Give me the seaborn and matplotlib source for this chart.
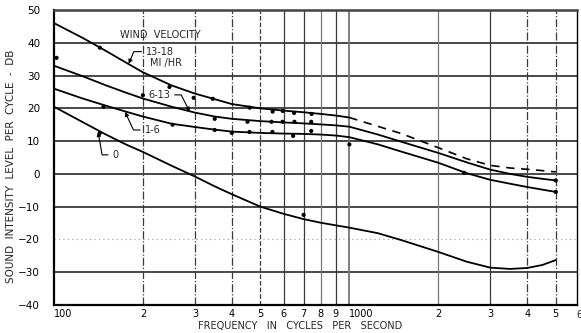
import matplotlib
matplotlib.use("Agg")
import matplotlib.pyplot as plt
import matplotlib.transforms as mtransforms
import numpy as np
import pandas as pd
import seaborn as sns

# ---------------- data ----------------
freq = [100, 125, 150, 175, 200, 250, 300, 350, 400, 500, 600, 700, 800, 900,
        1000, 1250, 1500, 2000, 2500, 3000, 3500, 4000, 4500, 5000]
freq_low = freq[:15]          # 100 .. 1000
freq_high = freq[14:]         # 1000 .. 5000

wind_13_18 = [46, 41.5, 37.5, 34, 31, 27, 24.5, 22.8, 21.3, 20, 19.3, 18.8, 18.3, 17.8, 17.2]
wind_13_18_ext = [17.2, 14.5, 12.3, 8.0, 4.6, 2.6, 1.8, 1.4, 1.0, 0.6]
wind_6_13 = [33, 29.8, 27, 24.8, 23, 20.5, 18.7, 17.5, 16.8, 16.1, 15.7, 15.4, 15.1, 14.8,
             14.4, 12, 9.8, 6.4, 3.5, 1.3, 0, -0.9, -1.5, -2.0]
wind_1_6 = [26, 23, 20.8, 19, 17.5, 15.3, 14.3, 13.5, 12.9, 12.5, 12.3, 12.2, 12, 11.7,
            11.2, 9, 6.8, 3.4, 0.2, -1.8, -3, -4, -4.8, -5.5]
wind_0 = [20.5, 15.8, 12, 9, 6.7, 2.5, -0.8, -3.8, -6.2, -10, -12.2, -13.8, -14.9, -15.7,
          -16.4, -18.1, -20.2, -23.8, -26.8, -28.6, -29, -28.7, -27.8, -26.3]

pts_freq = [102, 143, 246, 297, 345, 460, 550, 595, 650, 745,
            200, 350, 452, 545, 594, 652, 743, 5000,
            147, 252, 350, 400, 459, 549, 645, 743, 1000, 2450, 5000,
            143, 700]
pts_level = [35.4, 38.5, 26.5, 23.2, 22.9, 20.2, 19.0, 19.2, 18.6, 18.3,
             24.0, 16.8, 15.9, 15.9, 15.9, 15.9, 15.9, -2.0,
             20.5, 15.0, 13.4, 12.5, 12.8, 12.8, 11.6, 13.1, 9.0, 0.3, -5.5,
             12.5, -12.5]

x_ticks = [100, 200, 300, 400, 500, 600, 700, 800, 900, 1000, 2000, 3000, 4000, 5000]
x_tick_labels = ["100", "2", "3", "4", "5", "6", "7", "8", "9", "1000", "2", "3", "4", "5"]
y_ticks = [-40, -30, -20, -10, 0, 10, 20, 30, 40, 50]

# ---------------- figure ----------------
sns.set_style("white")
plt.rcParams['font.family'] = ['DejaVu Sans']
W, H = 581, 333
fig = plt.figure(figsize=(W / 100, H / 100), dpi=100)
ax = fig.add_axes([54 / W, 1 - 305 / H, (577 - 54) / W, (305 - 10) / H])
ax.set_xscale("log")
ax.set_xlim(100, 5900)
ax.set_ylim(-40, 50)

grid_c = "#3a3a3a"
# horizontal grid
for y in y_ticks[1:-1]:
    if y == -20:
        ax.axhline(y, color="#9a9a9a", lw=0.8, ls=(0, (1, 3)), zorder=1)
    else:
        ax.axhline(y, color=grid_c, lw=1.3, zorder=1)
# vertical grid
vstyles = {200: "-.", 300: "-.", 400: "-.", 500: "--", 4000: "-.", 5000: "-."}
for xv in x_ticks[1:]:
    lw = 1.3 if xv in (1000,) else 0.9
    col = "#777777" if xv in (800, 1000, 2000) else grid_c
    ax.axvline(xv, color=col, lw=lw, ls=vstyles.get(xv, "-"), zorder=1)

# curves
df_low = pd.DataFrame({"f": freq_low, "v": wind_13_18})
df_ext = pd.DataFrame({"f": freq_high, "v": wind_13_18_ext})
sns.lineplot(data=df_low, x="f", y="v", color="black", lw=1.3, ax=ax, zorder=3)
sns.lineplot(data=df_ext, x="f", y="v", color="black", lw=1.2, ax=ax, zorder=3,
             linestyle=(0, (5, 4)))
for series in (wind_6_13, wind_1_6, wind_0):
    sns.lineplot(x=freq, y=series, color="black", lw=1.3, ax=ax, zorder=3)

sns.scatterplot(x=pts_freq, y=pts_level, color="black", s=9, ax=ax, zorder=4,
                edgecolor="none")

# ticks
ax.set_xticks(x_ticks)
ax.set_xticklabels(x_tick_labels)
ax.xaxis.set_minor_locator(matplotlib.ticker.NullLocator())
for lbl in ax.get_xticklabels():
    if lbl.get_text() in ("100", "1000"):
        lbl.set_horizontalalignment("left")
ax.set_yticks(y_ticks)
ax.tick_params(axis="both", length=0, labelsize=7.5, colors="black")
ax.tick_params(axis="x", labelsize=7)
ax.tick_params(axis="y", pad=10)
ax.tick_params(axis="x", pad=3)
trans = mtransforms.blended_transform_factory(ax.transData, ax.transAxes)
ax.text(6000, -0.018, "6", transform=trans, ha="center", va="top", fontsize=7,
        clip_on=False)

ax.set_xlabel("FREQUENCY   IN   CYCLES   PER   SECOND", fontsize=7, labelpad=2)
ax.xaxis.set_label_coords(0.47, -0.055)
ax.set_ylabel("SOUND  INTENSITY  LEVEL  PER  CYCLE  -  DB", fontsize=7.5, labelpad=6)
ax.yaxis.set_label_coords(-0.072, 0.47)

for side in ("left", "bottom"):
    ax.spines[side].set_linewidth(1.6)
    ax.spines[side].set_color("black")
ax.spines["top"].set_linewidth(1.8)
ax.spines["top"].set_color("#444444")
ax.spines["right"].set_linewidth(1.0)
ax.spines["right"].set_color("black")

# labels
fs = 7
ax.text(167, 42.4, "WIND  VELOCITY", fontsize=fs, ha="left", va="center")
ax.text(211, 33.9, "MI /HR", fontsize=fs, ha="left", va="center")
akw = dict(arrowstyle="-|>", color="black", lw=0.8, mutation_scale=6, shrinkA=1, shrinkB=0)
ax.annotate("13-18", xy=(179, 33.6), xytext=(205, 37.3), fontsize=fs, ha="left", va="center",
            arrowprops=dict(**akw, connectionstyle="angle,angleA=180,angleB=67,rad=0"))
ax.annotate("6-13", xy=(288, 19.0), xytext=(247, 24.1), fontsize=fs, ha="right", va="center",
            arrowprops=dict(**akw, connectionstyle="angle,angleA=0,angleB=117,rad=0"))
ax.annotate("1-6", xy=(174, 18.9), xytext=(203, 13.4), fontsize=fs, ha="left", va="center",
            arrowprops=dict(**akw, connectionstyle="angle,angleA=180,angleB=115,rad=0"))
ax.annotate("0", xy=(141, 12.8), xytext=(158, 5.8), fontsize=fs, ha="left", va="center",
            arrowprops=dict(**akw, connectionstyle="angle,angleA=180,angleB=100,rad=0"))

fig.savefig("out.png", dpi=100)
